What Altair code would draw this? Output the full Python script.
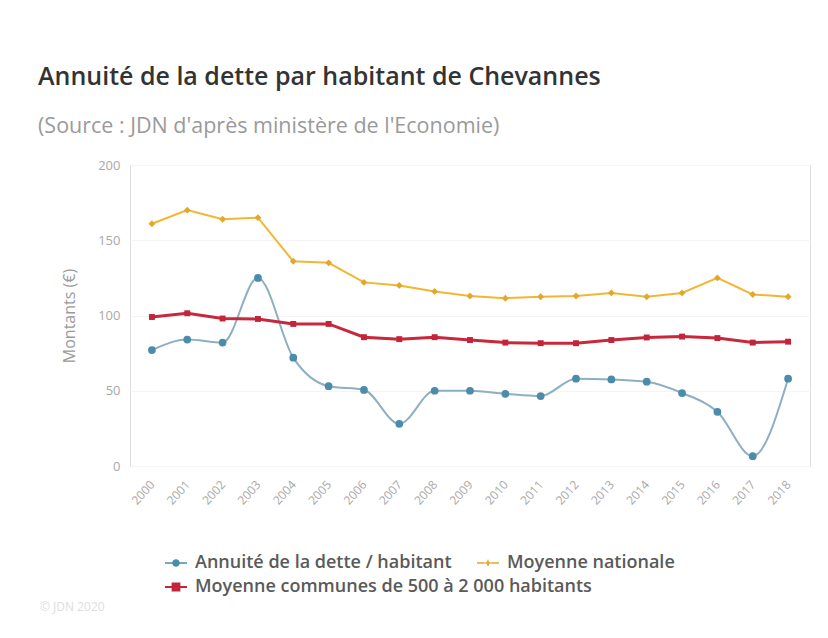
import altair as alt
import pandas as pd

years = ["2000", "2001", "2002", "2003", "2004", "2005", "2006", "2007", "2008", "2009",
         "2010", "2011", "2012", "2013", "2014", "2015", "2016", "2017", "2018"]
annuite = [77, 84, 82, 125, 72, 53, 50.5, 28, 50, 50, 48, 46.5, 58, 57.5, 56, 48.5, 36, 6.5, 58]
nationale = [161, 170, 164, 165, 136, 135, 122, 120, 116, 113, 111.5, 112.5, 113, 115, 112.5, 115, 125, 114, 112.5]
communes = [99, 101.5, 98, 97.7, 94.4, 94.4, 85.6, 84.3, 85.6, 83.7, 82, 81.6, 81.6, 83.7, 85.4, 86, 85, 82, 82.6]

S1 = "Annuité de la dette / habitant"
S2 = "Moyenne nationale"
S3 = "Moyenne communes de 500 à 2 000 habitants"
series = [S1, S2, S3]
line_colors = ["#8eaec2", "#f2b632", "#c8283c"]
point_colors = ["#4b8bab", "#e3a72a", "#c2243a"]

rows = []
for name, vals in zip(series, [annuite, nationale, communes]):
    for y, v in zip(years, vals):
        rows.append({"annee": y, "valeur": v, "serie": name})
df = pd.DataFrame(rows)

x_enc = alt.X("annee:O", sort=years, title=None,
              scale=alt.Scale(type="point", padding=0.62),
              axis=alt.Axis(labelAngle=-48, labelColor="#a8a8a8", labelFontSize=12,
                            labelFont="Open Sans", ticks=False, domain=False,
                            labelPadding=16, grid=False))
y_enc = alt.Y("valeur:Q", title="Montants (€)",
              scale=alt.Scale(domain=[0, 200], nice=False),
              axis=alt.Axis(values=[0, 50, 100, 150, 200], labelColor="#a8a8a8",
                            labelFontSize=13, labelFont="Open Sans", ticks=False,
                            domain=False, gridColor="#f4f4f4", labelPadding=10,
                            titleColor="#9a9a9a", titleFontSize=16, titleFont="Open Sans",
                            titleFontWeight="normal", titlePadding=20))

base = alt.Chart(df)

line_blue = base.transform_filter(alt.datum.serie == S1).mark_line(
    interpolate="monotone", strokeWidth=2, color=line_colors[0]).encode(x=x_enc, y=y_enc)
line_yel = base.transform_filter(alt.datum.serie == S2).mark_line(
    strokeWidth=2, color=line_colors[1]).encode(x=x_enc, y=y_enc)
line_red = base.transform_filter(alt.datum.serie == S3).mark_line(
    strokeWidth=3, color=line_colors[2]).encode(x=x_enc, y=y_enc)

points = base.mark_point(filled=True, opacity=1, strokeWidth=0).encode(
    x=x_enc, y=y_enc,
    color=alt.Color("serie:N", scale=alt.Scale(domain=series, range=point_colors), legend=None),
    shape=alt.Shape("serie:N",
                    scale=alt.Scale(domain=series, range=["circle", "diamond", "square"]),
                    legend=None),
    size=alt.Size("serie:N",
                  scale=alt.Scale(domain=series, range=[60, 35, 85]), legend=None),
)

p_circle = ("M-1,-0.07H-0.32V0.07H-1Z M0.32,-0.07H1V0.07H0.32Z "
            "M0.34,0A0.34,0.34 0 1,1 -0.34,0A0.34,0.34 0 1,1 0.34,0Z")
p_star = ("M-1,-0.06H-0.3V0.06H-1Z M0.3,-0.06H1V0.06H0.3Z "
          "M0,-0.36L0.1,-0.1L0.36,0L0.1,0.1L0,0.36L-0.1,0.1L-0.36,0L-0.1,-0.1Z")
p_square = ("M-1,-0.1H-0.38V0.1H-1Z M0.38,-0.1H1V0.1H0.38Z "
            "M-0.4,-0.4H0.4V0.4H-0.4Z")


def legend_layer(vals, ly):
    leg = dict(orient="none", legendX=35, legendY=ly, direction="horizontal",
               symbolSize=484, symbolStrokeWidth=0, labelFont="Open Sans", labelFontSize=18,
               labelFontWeight=600, labelColor="#5a5a5a", labelLimit=700, columnPadding=25,
               labelOffset=8, symbolOpacity=1, values=vals)
    return base.transform_filter("false").mark_point(filled=True, opacity=1, size=484).encode(
        x=x_enc, y=y_enc,
        color=alt.Color("serie:N", scale=alt.Scale(domain=series, range=point_colors),
                        title=None, legend=alt.Legend(**leg)),
        shape=alt.Shape("serie:N", title=None,
                        scale=alt.Scale(domain=series, range=[p_circle, p_star, p_square]),
                        legend=alt.Legend(**leg)),
    )


legend_row1 = legend_layer([S1, S2], 387)
legend_row2 = legend_layer([S3], 411)

copyright_df = pd.DataFrame({"t": ["© JDN 2020"]})
copyright = alt.Chart(copyright_df).mark_text(
    align="left", baseline="middle", fontSize=12, color="#dddddd", font="Open Sans"
).encode(text="t:N", x=alt.value(-90), y=alt.value(442))

chart = alt.layer(line_blue, line_yel, line_red, points, legend_row1, legend_row2,
                  copyright).resolve_scale(
    shape="independent", size="independent", color="independent"
).resolve_legend(shape="independent", color="independent", size="independent").properties(
    width=680, height=301,
    autosize=alt.AutoSizeParams(type="none"),
    padding={"left": 122, "top": 157, "right": 10, "bottom": 150},
    title=alt.TitleParams(
        text="Annuité de la dette par habitant de Chevannes",
        subtitle="(Source : JDN d'après ministère de l'Economie)",
        anchor="start", frame="group", dx=-92, offset=22,
        font="Open Sans", fontSize=25, fontWeight=600, color="#333333",
        subtitleFont="Open Sans", subtitleFontSize=21.5, subtitleColor="#9a9a9a",
        subtitlePadding=26,
    ),
).configure_view(stroke="transparent", strokeWidth=0).configure_axis(
    domain=False
).configure_axisX(grid=False).configure(background="white")

chart.save("out.html", embed_options={"renderer": "svg", "actions": False})
